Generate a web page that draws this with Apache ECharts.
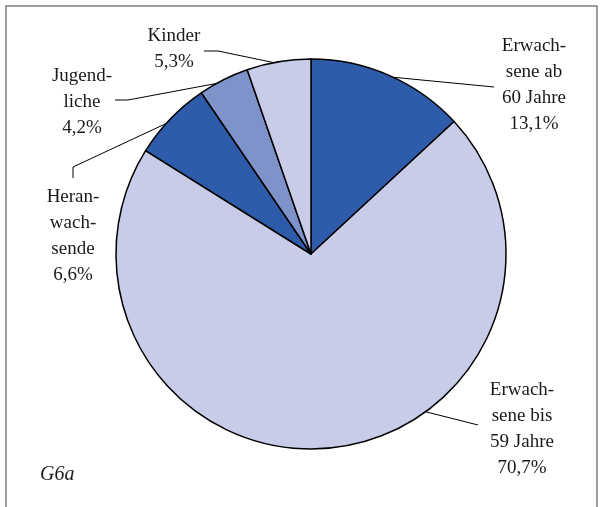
<!DOCTYPE html>
<html>
<head>
<meta charset="utf-8">
<script src="https://cdn.jsdelivr.net/npm/echarts@6/dist/echarts.min.js"></script>
<style>
  html, body { margin: 0; padding: 0; background: #fff; }
  #main { width: 600px; height: 507px; }
</style>
</head>
<body>
<div id="main"></div>
<script>
// Altersgruppen (Reihenfolge im Uhrzeigersinn ab 12 Uhr)
const groupNames = ['Erwach-\nsene ab\n60 Jahre', 'Erwach-\nsene bis\n59 Jahre', 'Heran-\nwach-\nsende', 'Jugend-\nliche', 'Kinder'];
const shares = [13.1, 70.7, 6.6, 4.2, 5.3];
const sliceColors = ['#2e5caa', '#c8cce9', '#2e5caa', '#7f93cb', '#c8cce9'];

// Beschriftungen: Mittelpunkt x, Oberkante y, Ansatzwinkel am Kreis, Knickpunkte der Linie
const labelX = [534, 522, 73, 82, 174];
const labelTop = [33, 377, 184, 63, 23];
const anchorDeg = [25, 144, 312, 331, 349];
const lineBends = [
  [[494, 87]],
  [[478, 425]],
  [[73, 167], [73, 178]],
  [[128, 100], [115, 100]],
  [[218, 51], [204, 51]]
];

const cx = 311, cy = 254, r = 195;
function edge(deg) {
  const a = deg * Math.PI / 180;
  return [cx + r * Math.sin(a), cy - r * Math.cos(a)];
}

const chart = echarts.init(document.getElementById('main'));

const option = {
  animation: false,
  backgroundColor: '#fff',
  graphic: [{
    type: 'rect',
    shape: { x: 6, y: 6, width: 591, height: 520 },
    style: { fill: 'none', stroke: '#7f7f7f', lineWidth: 1.5 },
    silent: true
  }, {
    type: 'text',
    left: 40,
    top: 465,
    style: {
      text: 'G6a',
      font: 'italic 20px "Liberation Serif", serif',
      fill: '#1a1a1a'
    }
  }],
  series: [{
    type: 'pie',
    center: [cx, cy],
    radius: r,
    startAngle: 90,
    clockwise: true,
    avoidLabelOverlap: false,
    data: shares.map((v, i) => ({
      name: groupNames[i],
      value: v,
      itemStyle: { color: sliceColors[i] }
    })),
    itemStyle: { borderColor: '#000', borderWidth: 1.5 },
    emphasis: { disabled: true },
    label: {
      show: true,
      position: 'outside',
      formatter: p => p.name + '\n' + p.value.toFixed(1).replace('.', ',') + '%',
      fontFamily: '"Liberation Serif", serif',
      fontSize: 19,
      lineHeight: 26,
      color: '#1a1a1a',
      align: 'center'
    },
    labelLine: {
      show: true,
      length: 10,
      length2: 10,
      lineStyle: { color: '#000', width: 1 }
    },
    labelLayout: function (params) {
      const i = params.dataIndex;
      return {
        x: labelX[i],
        y: labelTop[i],
        align: 'center',
        verticalAlign: 'top',
        labelLinePoints: [edge(anchorDeg[i])].concat(lineBends[i])
      };
    }
  }]
};

chart.setOption(option);
</script>
</body>
</html>
